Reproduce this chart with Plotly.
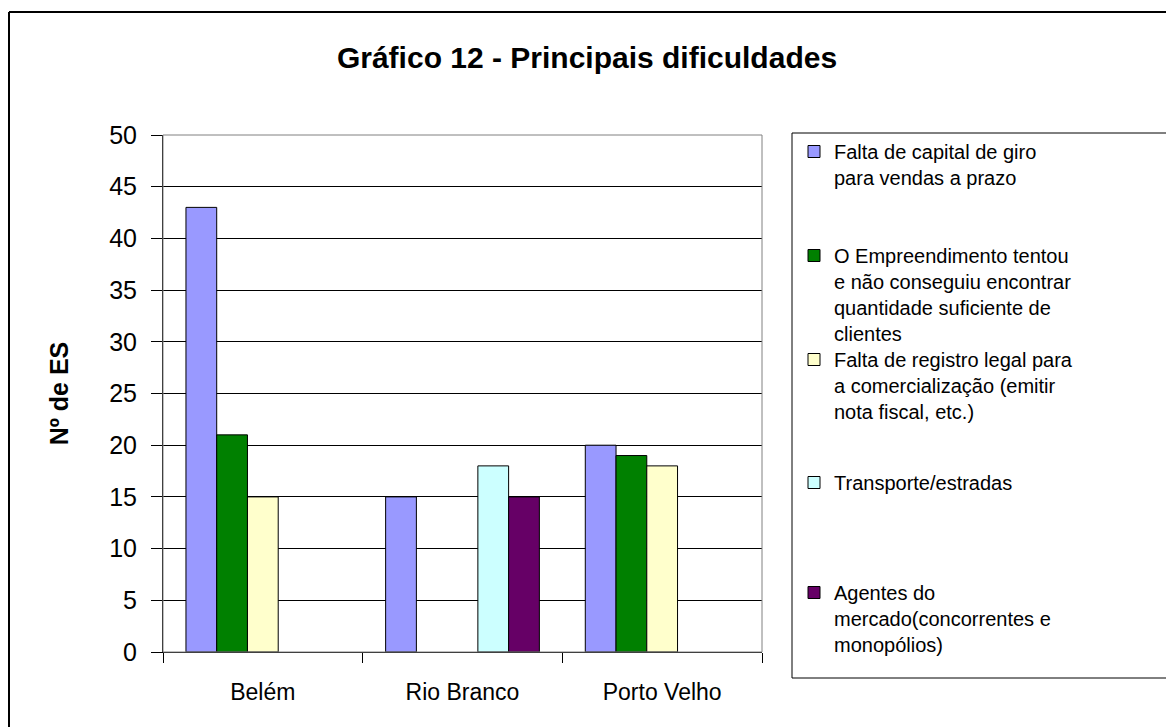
import plotly.graph_objects as go

categories = ["Belém", "Rio Branco", "Porto Velho"]
series_names = [
    "Falta de capital de giro<br>para vendas a prazo",
    "O Empreendimento tentou<br>e não conseguiu encontrar<br>quantidade suficiente de<br>clientes",
    "Falta de registro legal para<br>a comercialização (emitir<br>nota fiscal, etc.)",
    "Transporte/estradas",
    "Agentes do<br>mercado(concorrentes e<br>monopólios)",
]
capital_giro = [43, 15, 20]
clientes = [21, None, 19]
registro = [15, None, 18]
transporte = [None, 18, None]
agentes = [None, 15, None]
series_values = [capital_giro, clientes, registro, transporte, agentes]
colors = ["#9999FF", "#008000", "#FFFFCC", "#CCFFFF", "#660066"]
y_ticks = [0, 5, 10, 15, 20, 25, 30, 35, 40, 45, 50]

# the page body adds an 8px margin; work in screenshot coordinates and subtract it
OFF = 8
W, H = 1174 - OFF, 727 - OFF
PLOT_L, PLOT_R, PLOT_T, PLOT_B = 163, 762, 135, 652   # reference pixels
L_M = PLOT_L - OFF
R_M = W - (PLOT_R - OFF)
T_M = PLOT_T - OFF
B_M = H - (PLOT_B - OFF)
PW = PLOT_R - PLOT_L
PH = PLOT_B - PLOT_T


def px_x(px):
    return (px - PLOT_L) / PW


def px_y(py):
    return (PLOT_B - py) / PH


FONT = "Liberation Sans, Arial, sans-serif"

fig = go.Figure()
legend_line1 = [152, 256, 360, 483, 593]   # first text line centres (reference px)
for i, (name, vals, col) in enumerate(zip(series_names, series_values, colors)):
    lg = "legend" if i == 0 else f"legend{i + 1}"
    fig.add_trace(go.Bar(
        x=categories, y=vals, name=name,
        marker=dict(color=col, line=dict(color="black", width=1)),
        legend=lg, showlegend=True,
    ))

layout_legends = {}
for i, c in enumerate(legend_line1):
    key = "legend" if i == 0 else f"legend{i + 1}"
    layout_legends[key] = dict(
        x=px_x(794), xanchor="left", y=px_y(c - 20), yanchor="top",
        bgcolor="rgba(0,0,0,0)", borderwidth=0, valign="top",
        font=dict(family=FONT, size=20, color="black"),
        visible=True,
    )

fig.update_layout(
    width=W, height=H,
    margin=dict(l=L_M, r=R_M, t=T_M, b=B_M, autoexpand=False),
    paper_bgcolor="white", plot_bgcolor="white",
    showlegend=True,
    barmode="group", bargap=0.23, bargroupgap=0,
    title=dict(text="<b>Gráfico 12 - Principais dificuldades</b>",
               x=(587 - OFF) / W, xanchor="center", y=1 - (57 - OFF) / H, yanchor="middle",
               font=dict(family=FONT, size=30, color="black")),
    font=dict(family=FONT, color="black"),
    **layout_legends,
)

fig.update_xaxes(
    type="category", showgrid=False, showline=True, linecolor="black", linewidth=1,
    ticks="outside", tickson="boundaries", ticklen=10, tickcolor="black",
    tickfont=dict(family=FONT, size=23, color="black"), ticklabelstandoff=19,
)
fig.update_yaxes(
    range=[0, 50], tickvals=y_ticks, showgrid=True, gridcolor="black", gridwidth=1,
    showline=True, linecolor="black", linewidth=1, zeroline=False,
    ticks="outside", ticklen=11, tickcolor="black",
    tickfont=dict(family=FONT, size=25, color="black"), ticklabelstandoff=9,
    title=dict(text="<b>Nº de ES</b>", font=dict(family=FONT, size=25, color="black"), standoff=33),
)

# plot-area border (gray), legend box and outer frame
fig.add_shape(type="rect", xref="paper", yref="paper", x0=0, y0=0, x1=1, y1=1,
              line=dict(color="#808080", width=1), layer="above")
fig.add_shape(type="rect", xref="paper", yref="paper",
              x0=px_x(792), y0=px_y(678), x1=px_x(1200), y1=px_y(133),
              line=dict(color="black", width=1))
fig.add_shape(type="line", xref="paper", yref="paper",
              x0=px_x(9), y0=px_y(12), x1=px_x(9), y1=px_y(760),
              line=dict(color="black", width=2))
fig.add_shape(type="line", xref="paper", yref="paper",
              x0=px_x(9), y0=px_y(12), x1=px_x(1200), y1=px_y(12),
              line=dict(color="black", width=2))

fig.write_html("out.html")
